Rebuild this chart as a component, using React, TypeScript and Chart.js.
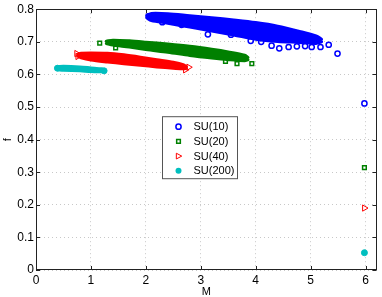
import React, { useEffect, useRef } from 'react';
import { Chart, registerables } from 'chart.js';

Chart.register(...registerables);

// ---------- data ----------
const xTickValues = [0, 1, 2, 3, 4, 5, 6];
const yTickValues = [0, 0.1, 0.2, 0.3, 0.4, 0.5, 0.6, 0.7, 0.8];
const seriesLabels = ['SU(10)', 'SU(20)', 'SU(40)', 'SU(200)'];

// SU(10): dense cloud outline (M, upper f, lower f) + scattered points
const su10BandM = [2.02, 2.1, 2.4, 2.8, 3.2, 3.6, 4.0, 4.4, 4.8, 5.1, 5.2];
const su10UpperF = [0.781, 0.787, 0.786, 0.780, 0.774, 0.767, 0.759, 0.748, 0.732, 0.718, 0.708];
const su10LowerF = [0.773, 0.765, 0.757, 0.745, 0.733, 0.721, 0.708, 0.701, 0.698, 0.695, 0.700];
const su10PointsM = [2.05, 2.3, 2.65, 3.13, 3.55, 3.91, 4.1, 4.29, 4.43, 4.6, 4.75, 4.9, 5.02, 5.18, 5.33, 5.49, 5.98];
const su10PointsF = [0.778, 0.760, 0.752, 0.723, 0.722, 0.703, 0.700, 0.688, 0.680, 0.684, 0.686, 0.687, 0.684, 0.684, 0.691, 0.664, 0.511];

// SU(20)
const su20BandM = [1.28, 1.4, 1.7, 2.0, 2.4, 2.8, 3.2, 3.5, 3.8, 3.86];
const su20UpperF = [0.702, 0.705, 0.703, 0.699, 0.693, 0.686, 0.677, 0.669, 0.659, 0.652];
const su20LowerF = [0.695, 0.690, 0.684, 0.676, 0.668, 0.658, 0.650, 0.645, 0.642, 0.645];
const su20PointsM = [1.16, 1.45, 3.45, 3.66, 3.75, 3.93, 5.98];
const su20PointsF = [0.696, 0.681, 0.640, 0.633, 0.650, 0.633, 0.314];

// SU(40)
const su40BandM = [0.76, 0.82, 1.0, 1.3, 1.6, 1.9, 2.2, 2.5, 2.68, 2.74];
const su40UpperF = [0.662, 0.665, 0.666, 0.665, 0.660, 0.653, 0.645, 0.637, 0.630, 0.624];
const su40LowerF = [0.656, 0.651, 0.644, 0.638, 0.633, 0.628, 0.623, 0.619, 0.617, 0.619];
const su40PointsM = [0.74, 0.76, 2.78, 2.72, 5.98];
const su40PointsF = [0.664, 0.655, 0.622, 0.614, 0.190];

// SU(200)
const su200BandM = [0.4, 0.5, 0.8, 1.0, 1.2, 1.24];
const su200UpperF = [0.624, 0.625, 0.623, 0.620, 0.617, 0.614];
const su200LowerF = [0.614, 0.613, 0.611, 0.609, 0.608, 0.609];
const su200PointsM = [0.39, 1.24, 5.98];
const su200PointsF = [0.619, 0.611, 0.053];

type Series = {
  label: string; color: string; style: string; rotation: number; radius: number; lw: number; filled: boolean;
  bandM: number[]; upper: number[]; lower: number[]; ptsM: number[]; ptsF: number[];
};

const series: Series[] = [
  { label: seriesLabels[0], color: '#0000ff', style: 'circle', rotation: 0, radius: 2.6, lw: 1.5, filled: false,
    bandM: su10BandM, upper: su10UpperF, lower: su10LowerF, ptsM: su10PointsM, ptsF: su10PointsF },
  { label: seriesLabels[1], color: '#008000', style: 'rect', rotation: 0, radius: 2.6, lw: 1.5, filled: false,
    bandM: su20BandM, upper: su20UpperF, lower: su20LowerF, ptsM: su20PointsM, ptsF: su20PointsF },
  { label: seriesLabels[2], color: '#ff0000', style: 'triangle', rotation: 90, radius: 3.6, lw: 1, filled: false,
    bandM: su40BandM, upper: su40UpperF, lower: su40LowerF, ptsM: su40PointsM, ptsF: su40PointsF },
  { label: seriesLabels[3], color: '#00bfbf', style: 'circle', rotation: 0, radius: 3, lw: 1, filled: true,
    bandM: su200BandM, upper: su200UpperF, lower: su200LowerF, ptsM: su200PointsM, ptsF: su200PointsF },
];

const FONT = "'Liberation Sans', Arial, Helvetica, sans-serif";

function drawMarker(ctx: CanvasRenderingContext2D, s: Series, x: number, y: number) {
  ctx.save();
  ctx.lineWidth = s.lw;
  ctx.strokeStyle = s.color;
  ctx.fillStyle = s.color;
  const r = s.radius;
  ctx.beginPath();
  if (s.style === 'circle') {
    ctx.arc(x, y, r, 0, Math.PI * 2);
  } else if (s.style === 'rect') {
    const h = r * Math.SQRT1_2;
    ctx.rect(x - h, y - h, 2 * h, 2 * h);
  } else {
    // triangle pointing right
    ctx.moveTo(x + r * 0.9, y);
    ctx.lineTo(x - r * 0.6, y - r * 0.8);
    ctx.lineTo(x - r * 0.6, y + r * 0.8);
    ctx.closePath();
  }
  if (s.filled) ctx.fill(); else ctx.stroke();
  ctx.restore();
}

const framePlugin = {
  id: 'frameAndLegend',
  afterDraw(chart: any) {
    const ctx: CanvasRenderingContext2D = chart.ctx;
    const { left, right, top, bottom } = chart.chartArea;
    const xs = chart.scales.x;
    const ys = chart.scales.y;
    ctx.save();
    ctx.strokeStyle = '#222';
    ctx.lineWidth = 1;
    ctx.strokeRect(Math.round(left) + 0.5, Math.round(top) + 0.5, Math.round(right - left) - 1, Math.round(bottom - top) - 1);
    // inside ticks
    const tl = 4;
    ctx.beginPath();
    xTickValues.forEach((v) => {
      const px = Math.round(xs.getPixelForValue(v)) + 0.5;
      ctx.moveTo(px, bottom); ctx.lineTo(px, bottom - tl);
      ctx.moveTo(px, top); ctx.lineTo(px, top + tl);
    });
    yTickValues.forEach((v) => {
      const py = Math.round(ys.getPixelForValue(v)) + 0.5;
      ctx.moveTo(left, py); ctx.lineTo(left + tl, py);
      ctx.moveTo(right, py); ctx.lineTo(right - tl, py);
    });
    ctx.stroke();

    // legend box
    const bx = left + 126.5, by = top + 107.5, bw = 75, bh = 62;
    ctx.fillStyle = '#ffffff';
    ctx.fillRect(bx, by, bw, bh);
    ctx.strokeStyle = '#555';
    ctx.lineWidth = 1;
    ctx.strokeRect(bx, by, bw, bh);
    ctx.font = `11px ${FONT}`;
    ctx.textBaseline = 'middle';
    ctx.textAlign = 'left';
    series.forEach((s, i) => {
      const y = by + 10 + i * 14.7;
      drawMarker(ctx, s, bx + 16, y);
      ctx.fillStyle = '#000';
      ctx.fillText(s.label, bx + 31, y + 0.5);
    });
    ctx.restore();
  },
};

export default function App() {
  const ref = useRef<HTMLCanvasElement>(null);
  useEffect(() => {
    document.body.style.margin = '0';
    const canvas = ref.current;
    if (!canvas) return;
    const datasets: any[] = [];
    series.forEach((s) => {
      datasets.push({
        type: 'line',
        label: '',
        data: s.bandM.map((m, i) => ({ x: m, y: s.lower[i] })),
        borderColor: s.color,
        borderWidth: 3,
        borderCapStyle: 'round',
        borderJoinStyle: 'round',
        pointRadius: 0,
        tension: 0.3,
        fill: false,
      });
      datasets.push({
        type: 'line',
        label: '',
        data: s.bandM.map((m, i) => ({ x: m, y: s.upper[i] })),
        borderColor: s.color,
        backgroundColor: s.color,
        borderWidth: 3,
        borderCapStyle: 'round',
        borderJoinStyle: 'round',
        pointRadius: 0,
        tension: 0.3,
        fill: '-1',
      });
      datasets.push({
        type: 'scatter',
        label: s.label,
        data: s.ptsM.map((m, i) => ({ x: m, y: s.ptsF[i] })),
        showLine: false,
        pointStyle: s.style,
        pointRotation: s.rotation,
        pointRadius: s.radius,
        pointBorderWidth: s.lw,
        pointBorderColor: s.color,
        pointBackgroundColor: s.filled ? s.color : 'rgba(255,255,255,0)',
        backgroundColor: s.filled ? s.color : 'rgba(255,255,255,0)',
        borderColor: s.color,
      });
    });

    Chart.defaults.font.family = FONT;
    Chart.defaults.color = '#000';

    const chart = new Chart(canvas, {
      type: 'scatter',
      data: { datasets },
      options: {
        animation: false,
        responsive: false,
        devicePixelRatio: 1,
        layout: { padding: { top: 7, right: 4, left: 0, bottom: -2 } },
        plugins: { legend: { display: false }, tooltip: { enabled: false } },
        scales: {
          x: {
            type: 'linear',
            min: 0,
            max: 6.2,
            afterFit: (scale: any) => { scale.height = 29; },
            grid: { color: '#c8c8c8', lineWidth: 1, drawTicks: false },
            border: { display: false, dash: [1, 3] },
            ticks: {
              stepSize: 1,
              includeBounds: false,
              padding: 3,
              font: { size: 12, family: FONT },
              color: '#000',
              callback: (v: any) => String(v),
            },
            title: { display: true, text: 'M', font: { size: 11, family: FONT }, color: '#000', padding: 0 },
          },
          y: {
            type: 'linear',
            min: 0,
            max: 0.8,
            afterFit: (scale: any) => { scale.width = 36; },
            grid: { color: '#c8c8c8', lineWidth: 1, drawTicks: false },
            border: { display: false, dash: [1, 3] },
            ticks: {
              stepSize: 0.1,
              padding: 2,
              font: { size: 12, family: FONT },
              color: '#000',
              callback: (v: any) => (Math.abs(v) < 1e-9 ? '0' : Number(v).toFixed(1)),
            },
            title: { display: true, text: 'f', font: { size: 11, family: FONT }, color: '#000', padding: { top: 1, bottom: 0 } },
          },
        },
      },
      plugins: [framePlugin],
    } as any);
    return () => chart.destroy();
  }, []);
  return <canvas ref={ref} width={382} height={297} style={{ display: 'block' }} />;
}
